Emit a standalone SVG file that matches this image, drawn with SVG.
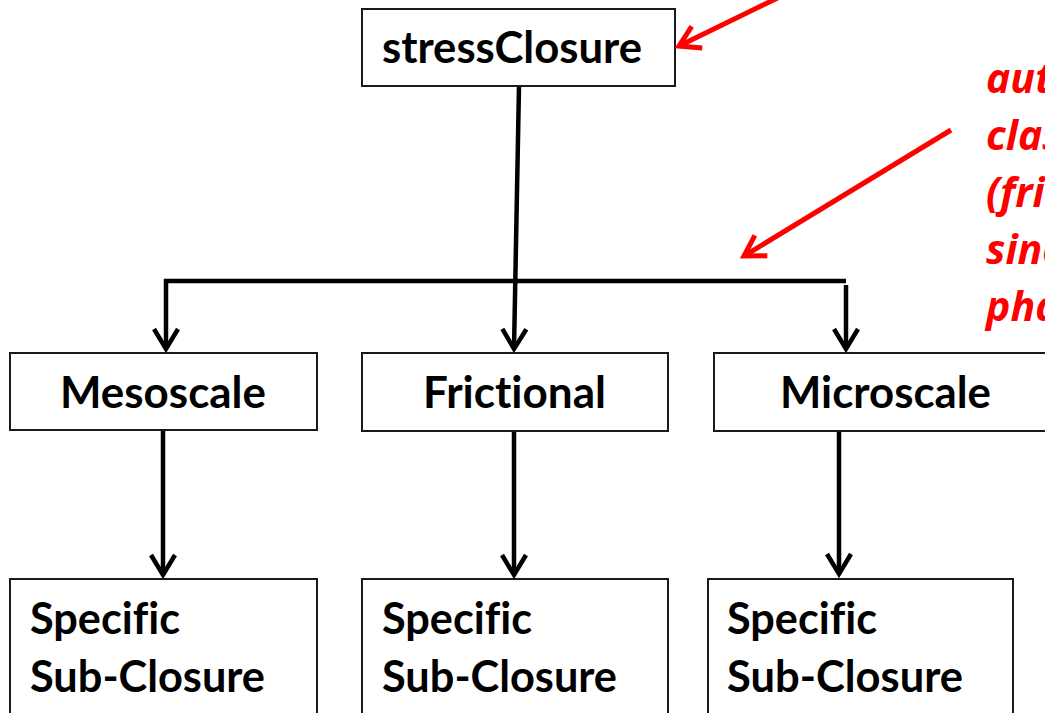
<svg xmlns="http://www.w3.org/2000/svg" width="1045" height="713" viewBox="0 0 1045 713">
  <style>
    .box { fill: #fff; stroke: #1a1a1a; stroke-width: 2; }
    .label { font-family: Lato, "Open Sans", "Liberation Sans", sans-serif; font-weight: bold; font-size: 44px; fill: #000; font-variant-ligatures: none; }
    .link { fill: none; stroke: #000; stroke-width: 4.5; }
    .note-arrow { fill: none; stroke: #ff0000; stroke-width: 5; }
    .note { font-family: "Open Sans", Lato, "Liberation Sans", sans-serif; font-weight: bold; font-style: italic; font-size: 41px; fill: #ff0000; }
  </style>
  <defs>
    <marker id="head" markerUnits="userSpaceOnUse" viewBox="-30 -20 40 40" markerWidth="40" markerHeight="40" refX="0" refY="0" orient="auto" overflow="visible">
      <path d="M-20,-12 L0,0 L-20,12" fill="none" stroke="#000" stroke-width="4.5"/>
    </marker>
    <marker id="head-red" markerUnits="userSpaceOnUse" viewBox="-30 -20 40 40" markerWidth="40" markerHeight="40" refX="0" refY="0" orient="auto" overflow="visible">
      <path d="M-20,-12 L0,0 L-20,12" fill="none" stroke="#ff0000" stroke-width="5"/>
    </marker>
  </defs>

  <rect width="1045" height="713" fill="#fff"/>

  <!-- tree connectors -->
  <g id="connectors">
    <line class="link" x1="519" y1="86" x2="514" y2="349" marker-end="url(#head)"/>
    <line class="link" x1="164" y1="281" x2="846" y2="281"/>
    <line class="link" x1="166" y1="279" x2="166" y2="349" marker-end="url(#head)"/>
    <line class="link" x1="846" y1="285" x2="846" y2="349" marker-end="url(#head)"/>
    <line class="link" x1="163" y1="431" x2="163" y2="575" marker-end="url(#head)"/>
    <line class="link" x1="514" y1="431" x2="514" y2="575" marker-end="url(#head)"/>
    <line class="link" x1="839" y1="431" x2="839" y2="574" marker-end="url(#head)"/>
  </g>

  <g id="root">
    <rect class="box" x="362" y="9" width="313" height="77"/>
    <text class="label" x="382" y="63" textLength="260" lengthAdjust="spacingAndGlyphs">stressClosure</text>
  </g>

  <g id="mesoscale">
    <rect class="box" x="10" y="353" width="307" height="77"/>
    <text class="label" x="60" y="408" textLength="206" lengthAdjust="spacingAndGlyphs">Mesoscale</text>
  </g>
  <g id="frictional">
    <rect class="box" x="362" y="353" width="306" height="78"/>
    <text class="label" x="423" y="408" textLength="183" lengthAdjust="spacingAndGlyphs">Frictional</text>
  </g>
  <g id="microscale">
    <rect class="box" x="714" y="353" width="345" height="78"/>
    <text class="label" x="780" y="408" textLength="211" lengthAdjust="spacingAndGlyphs">Microscale</text>
  </g>

  <g id="mesoscale-sub">
    <rect class="box" x="10" y="579" width="307" height="150"/>
    <text class="label" x="30" y="634" textLength="150" lengthAdjust="spacingAndGlyphs">Specific</text>
    <text class="label" x="30" y="692" textLength="235" lengthAdjust="spacingAndGlyphs">Sub-Closure</text>
  </g>
  <g id="frictional-sub">
    <rect class="box" x="362" y="579" width="306" height="150"/>
    <text class="label" x="382" y="634" textLength="150" lengthAdjust="spacingAndGlyphs">Specific</text>
    <text class="label" x="382" y="692" textLength="235" lengthAdjust="spacingAndGlyphs">Sub-Closure</text>
  </g>
  <g id="microscale-sub">
    <rect class="box" x="708" y="579" width="305" height="150"/>
    <text class="label" x="727" y="634" textLength="150" lengthAdjust="spacingAndGlyphs">Specific</text>
    <text class="label" x="727" y="692" textLength="236" lengthAdjust="spacingAndGlyphs">Sub-Closure</text>
  </g>

  <!-- red annotation, running off the right edge -->
  <g id="annotation">
    <line class="note-arrow" x1="796" y1="-11" x2="679" y2="46" marker-end="url(#head-red)"/>
    <line class="note-arrow" x1="951" y1="130" x2="744" y2="256" marker-end="url(#head-red)"/>
    <text class="note" x="986" y="93">aut</text>
    <text class="note" x="986" y="150">clas</text>
    <text class="note" x="986" y="207">(fri</text>
    <text class="note" x="986" y="264">sinc</text>
    <text class="note" x="986" y="321">pha</text>
  </g>
</svg>
